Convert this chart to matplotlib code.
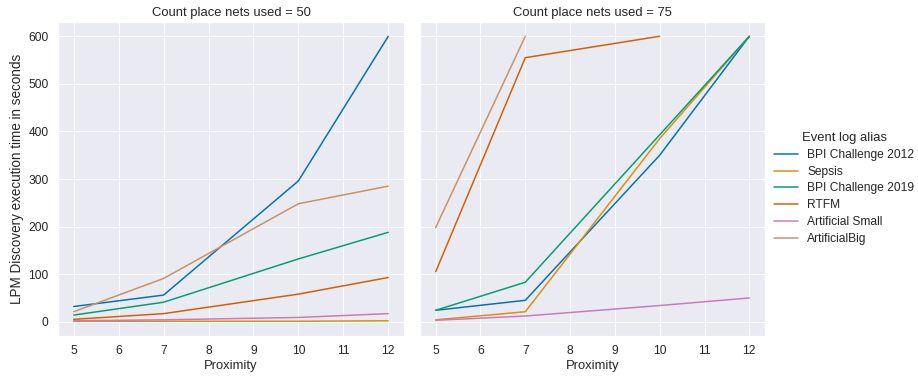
import matplotlib
matplotlib.use("Agg")
import matplotlib.pyplot as plt
import seaborn as sns
import pandas as pd

# Data
proximity = [5, 7, 10, 12]
aliases = ["BPI Challenge 2012", "Sepsis", "BPI Challenge 2019", "RTFM",
           "Artificial Small", "ArtificialBig"]

# Count place nets used = 50
times_50 = {
    "BPI Challenge 2012": [32, 56, 296, 600],
    "Sepsis": [1, 1, 1, 2],
    "BPI Challenge 2019": [14, 41, 132, 188],
    "RTFM": [5, 17, 58, 93],
    "Artificial Small": [2, 4, 9, 17],
    "ArtificialBig": [21, 91, 248, 285],
}
# Count place nets used = 75 (None = no run)
times_75 = {
    "BPI Challenge 2012": [24, 45, 350, 600],
    "Sepsis": [4, 21, 385, 600],
    "BPI Challenge 2019": [24, 83, 393, 600],
    "RTFM": [105, 555, 600, None],
    "Artificial Small": [3, 12, 34, 50],
    "ArtificialBig": [198, 600, None, None],
}

rows = []
for nets, table in [(50, times_50), (75, times_75)]:
    for alias in aliases:
        for p, t in zip(proximity, table[alias]):
            if t is not None:
                rows.append({"Count place nets used": nets, "Event log alias": alias,
                             "Proximity": p, "time": t})
df = pd.DataFrame(rows)

sns.set_theme(style="darkgrid", context="notebook")
plt.rcParams["font.family"] = ["Liberation Sans", "DejaVu Sans"]
plt.rcParams.update({"axes.titlesize": 13, "axes.labelsize": 13,
                     "xtick.labelsize": 12, "ytick.labelsize": 12,
                     "legend.fontsize": 12, "legend.title_fontsize": 13})
palette = dict(zip(aliases, sns.color_palette("colorblind", len(aliases))))

fig = plt.figure(figsize=(918 / 72, 377 / 72), dpi=72)
ax1 = fig.add_axes([58 / 918, 41 / 377, 346 / 918, 314 / 377])
ax2 = fig.add_axes([420 / 918, 41 / 377, 345 / 918, 314 / 377], sharey=ax1)

for ax, nets in [(ax1, 50), (ax2, 75)]:
    sub = df[df["Count place nets used"] == nets]
    sns.lineplot(data=sub, x="Proximity", y="time", hue="Event log alias",
                 hue_order=aliases, palette=palette, ax=ax, legend=False)
    ax.set_title(f"Count place nets used = {nets}")
    ax.set_xticks(range(5, 13))
    ax.set_xlabel("Proximity", labelpad=2)

ax1.set_ylabel("LPM Discovery execution time in seconds", fontsize=13.5)
ax2.set_ylabel("")
ax2.tick_params(labelleft=False)
ax1.set_yticks(range(0, 601, 100))
ax1.set_xlim(4.65, 12.35)
ax2.set_xlim(4.65, 12.35)
ax1.set_ylim(-30, 630)

handles = [plt.Line2D([], [], color=palette[a], lw=1.5) for a in aliases]
fig.legend(handles, aliases, title="Event log alias", loc="center left",
           bbox_to_anchor=(0.831, 0.5), frameon=False, labelspacing=0.4)

fig.savefig("out.png", dpi=72)
